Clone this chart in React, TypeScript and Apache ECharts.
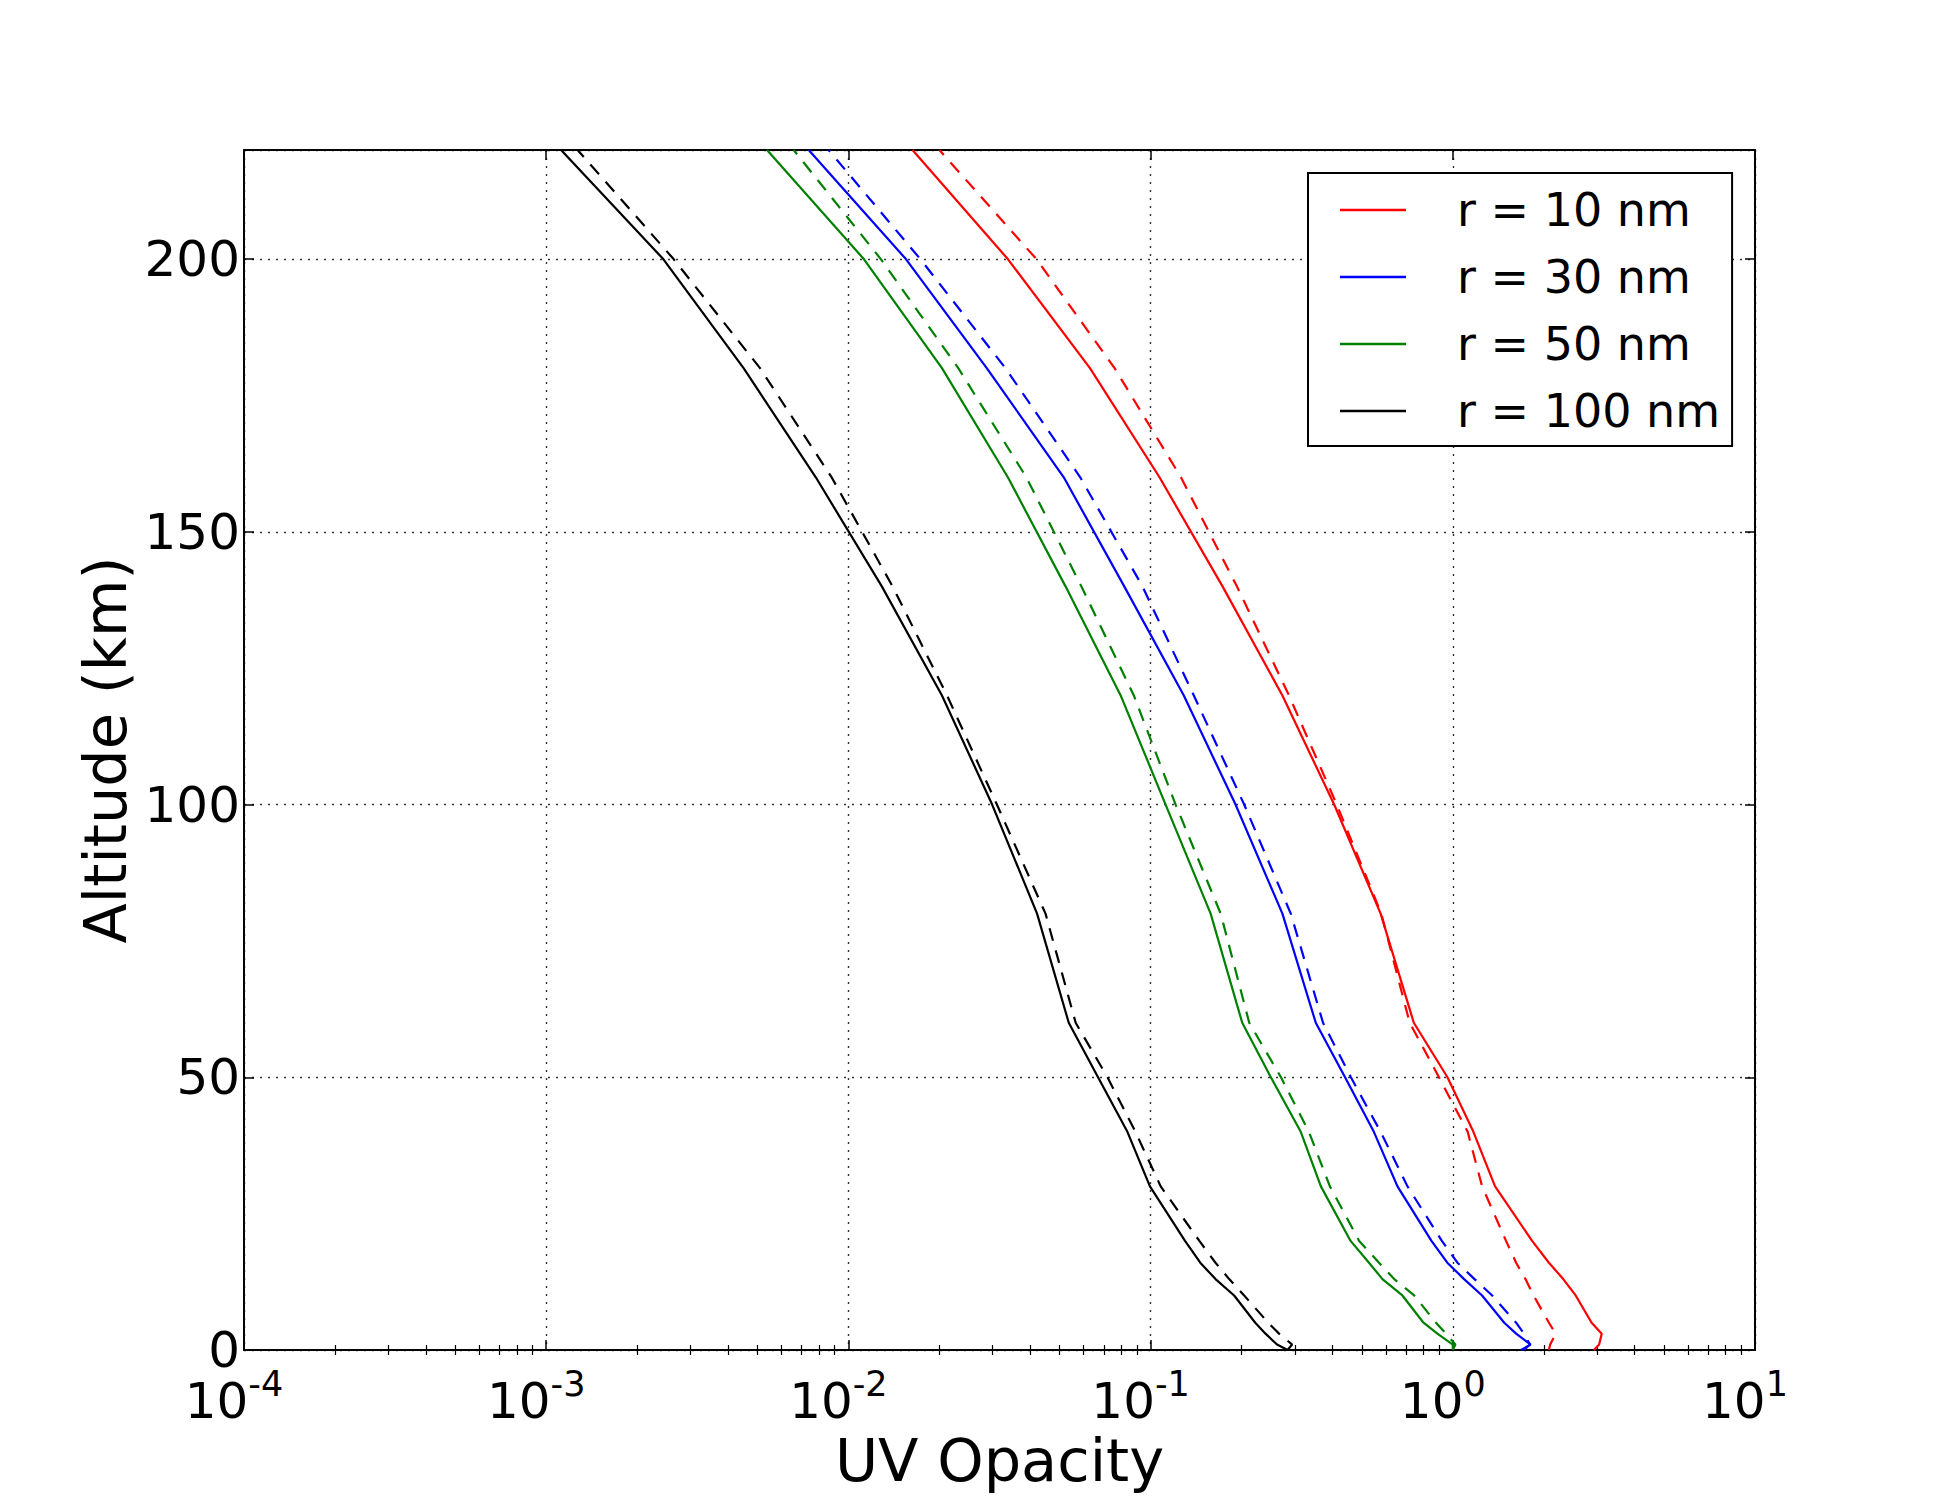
import React, { useEffect, useRef } from 'react';
import * as echarts from 'echarts';

// Altitude grid (km), shared by all curves
const ALTITUDE_KM = [0, 1, 3, 5, 10, 13, 16, 20, 30, 40, 50, 60, 80, 100, 120, 140, 160, 180, 200, 220];

// UV opacity, r = 10 nm
const R10_SOLID = [2.93, 3.05, 3.11, 2.88, 2.55, 2.32, 2.08, 1.83, 1.38, 1.17, 0.96, 0.743, 0.577, 0.405, 0.273, 0.173, 0.107, 0.063, 0.0337, 0.0163];
const R10_DASHED = [2.08, 2.10, 2.19, 2.08, 1.85, 1.74, 1.62, 1.50, 1.25, 1.12, 0.90, 0.72, 0.58, 0.413, 0.287, 0.193, 0.126, 0.076, 0.0419, 0.020];
// r = 30 nm
const R30_SOLID = [1.68, 1.81, 1.62, 1.48, 1.25, 1.09, 0.959, 0.85, 0.656, 0.548, 0.44, 0.352, 0.273, 0.191, 0.1288, 0.0818, 0.0516, 0.0287, 0.0155, 0.00739];
const R30_DASHED = [1.72, 1.80, 1.72, 1.62, 1.35, 1.18, 1.036, 0.92, 0.708, 0.577, 0.46, 0.372, 0.291, 0.204, 0.139, 0.094, 0.0585, 0.0331, 0.0173, 0.0086];
// r = 50 nm
const R50_SOLID = [1.0, 1.0, 0.889, 0.80, 0.681, 0.585, 0.528, 0.459, 0.366, 0.314, 0.25, 0.201, 0.158, 0.1121, 0.0796, 0.0523, 0.0337, 0.0204, 0.01125, 0.00538];
const R50_DASHED = [1.0, 1.02, 0.949, 0.88, 0.745, 0.64, 0.57, 0.49, 0.392, 0.334, 0.27, 0.212, 0.1706, 0.121, 0.088, 0.059, 0.0388, 0.0231, 0.0128, 0.00659];
// r = 100 nm
const R100_SOLID = [0.284, 0.262, 0.240, 0.222, 0.189, 0.164, 0.146, 0.130, 0.0995, 0.0838, 0.067, 0.0536, 0.0421, 0.0299, 0.0204, 0.0129, 0.0078, 0.0045, 0.00244, 0.00112];
const R100_DASHED = [0.284, 0.294, 0.266, 0.245, 0.204, 0.182, 0.164, 0.145, 0.108, 0.0891, 0.072, 0.0565, 0.0449, 0.031, 0.0212, 0.0140, 0.0088, 0.0051, 0.00264, 0.00127];

const LEGEND_LABELS = ['r = 10 nm', 'r = 30 nm', 'r = 50 nm', 'r = 100 nm'];
const COLORS = ['#ff0000', '#0000ff', '#008000', '#000000'];
const SOLID_SETS = [R10_SOLID, R30_SOLID, R50_SOLID, R100_SOLID];
const DASHED_SETS = [R10_DASHED, R30_DASHED, R50_DASHED, R100_DASHED];

const X_MIN = 1e-4;
const X_MAX = 10;
const Y_MIN = 0;
const Y_MAX = 220;
const Y_INTERVAL = 50;

const X_TITLE = 'UV Opacity';
const Y_TITLE = 'Altitude (km)';

// log-axis minor tick positions (2..9 in each decade)
const MINOR_MULTIPLIERS = [2, 3, 4, 5, 6, 7, 8, 9];
const DECADES = [1e-4, 1e-3, 1e-2, 1e-1, 1];

const FONT = "'DejaVu Sans', sans-serif";

export default function App() {
  const ref = useRef<HTMLDivElement>(null);

  useEffect(() => {
    if (!ref.current) return;
    const chart = echarts.init(ref.current, null, { renderer: 'svg' });

    const minorTicks: number[] = [];
    DECADES.forEach((d) => MINOR_MULTIPLIERS.forEach((m) => minorTicks.push(parseFloat((d * m).toPrecision(6)))));

    const pairs = (vals: number[]) => ALTITUDE_KM.map((a, i) => [vals[i], a]);

    const series: any[] = [];
    SOLID_SETS.forEach((vals, i) => {
      series.push({
        name: LEGEND_LABELS[i],
        type: 'line',
        xAxisIndex: 0,
        yAxisIndex: 0,
        data: pairs(vals),
        symbol: 'none',
        lineStyle: { color: COLORS[i], width: 2.2 },
        itemStyle: { color: COLORS[i] },
        z: 3,
      });
    });
    DASHED_SETS.forEach((vals, i) => {
      series.push({
        name: LEGEND_LABELS[i] + ' (dashed)',
        type: 'line',
        xAxisIndex: 0,
        yAxisIndex: 0,
        data: pairs(vals),
        symbol: 'none',
        lineStyle: { color: COLORS[i], width: 2.2, type: [13, 10] },
        itemStyle: { color: COLORS[i] },
        z: 3,
      });
    });

    const axisLine = { show: true, onZero: false, lineStyle: { color: '#000', width: 2 } };
    const gridLine = { show: true, lineStyle: { color: '#333', width: 1.4, type: [2, 6] } };

    const option: any = {
      animation: false,
      backgroundColor: '#ffffff',
      textStyle: { fontFamily: FONT, color: '#000' },
      grid: { left: 244, right: 195, top: 150, bottom: 150, containLabel: false },
      legend: {
        data: LEGEND_LABELS.map((n) => ({ name: n, icon: 'rect' })),
        orient: 'vertical',
        left: 1308,
        top: 173,
        padding: [9, 12, 7, 32],
        itemWidth: 66,
        itemHeight: 2.5,
        itemGap: 11,
        borderColor: '#000',
        borderWidth: 2,
        borderRadius: 0,
        backgroundColor: '#ffffff',
        selectedMode: false,
        textStyle: { fontFamily: FONT, fontSize: 46, lineHeight: 56, color: '#000', padding: [0, 0, 0, 46] },
      },
      xAxis: [
        {
          type: 'log',
          logBase: 10,
          min: X_MIN,
          max: X_MAX,
          position: 'bottom',
          name: X_TITLE,
          nameLocation: 'middle',
          nameGap: 81,
          nameMoveOverlap: false,
          nameTextStyle: { fontFamily: FONT, fontSize: 59, lineHeight: 59, color: '#000' },
          axisLine,
          axisTick: { show: true, inside: true, length: 10, lineStyle: { color: '#000', width: 1.5 } },
          axisLabel: {
            margin: 16,
            hideOverlap: false,
            padding: [0, 20, 0, 0],
            formatter: (v: number) => {
              const e = Math.round(Math.log10(v));
              return '{b|10}{s|' + e + '}';
            },
            rich: {
              b: { fontFamily: FONT, fontSize: 50, lineHeight: 70, color: '#000' },
              s: { fontFamily: FONT, fontSize: 35, lineHeight: 20, color: '#000', verticalAlign: 'top' },
            },
          },
          splitLine: gridLine,
        },
        {
          type: 'log',
          logBase: 10,
          min: X_MIN,
          max: X_MAX,
          position: 'top',
          axisLine,
          axisTick: { show: true, inside: true, length: 10, lineStyle: { color: '#000', width: 1.5 } },
          axisLabel: { show: false },
          splitLine: { show: false },
        },
        {
          type: 'log',
          logBase: 10,
          min: X_MIN,
          max: X_MAX,
          position: 'bottom',
          axisLine: { show: false },
          axisTick: { show: true, inside: true, length: 5, customValues: minorTicks, lineStyle: { color: '#000', width: 1.2 } },
          axisLabel: { show: false },
          splitLine: { show: false },
        },
        {
          type: 'log',
          logBase: 10,
          min: X_MIN,
          max: X_MAX,
          position: 'top',
          axisLine: { show: false },
          axisTick: { show: true, inside: true, length: 5, customValues: minorTicks, lineStyle: { color: '#000', width: 1.2 } },
          axisLabel: { show: false },
          splitLine: { show: false },
        },
      ],
      yAxis: [
        {
          type: 'value',
          min: Y_MIN,
          max: Y_MAX,
          interval: Y_INTERVAL,
          position: 'left',
          name: Y_TITLE,
          nameLocation: 'middle',
          nameGap: 109,
          nameRotate: 90,
          nameMoveOverlap: false,
          nameTextStyle: { fontFamily: FONT, fontSize: 59, lineHeight: 59, color: '#000' },
          axisLine,
          axisTick: { show: true, inside: true, length: 10, lineStyle: { color: '#000', width: 1.5 } },
          axisLabel: { fontFamily: FONT, fontSize: 50, lineHeight: 30, color: '#000', margin: 4, showMaxLabel: false },
          splitLine: gridLine,
        },
        {
          type: 'value',
          min: Y_MIN,
          max: Y_MAX,
          interval: Y_INTERVAL,
          position: 'right',
          axisLine,
          axisTick: { show: true, inside: true, length: 10, lineStyle: { color: '#000', width: 1.5 } },
          axisLabel: { show: false },
          splitLine: { show: false },
        },
      ],
      series,
    };

    chart.setOption(option);
    return () => chart.dispose();
  }, []);

  return (
    <div
      ref={ref}
      style={{ position: 'absolute', left: 0, top: 0, width: 1950, height: 1500, background: '#fff' }}
    />
  );
}
